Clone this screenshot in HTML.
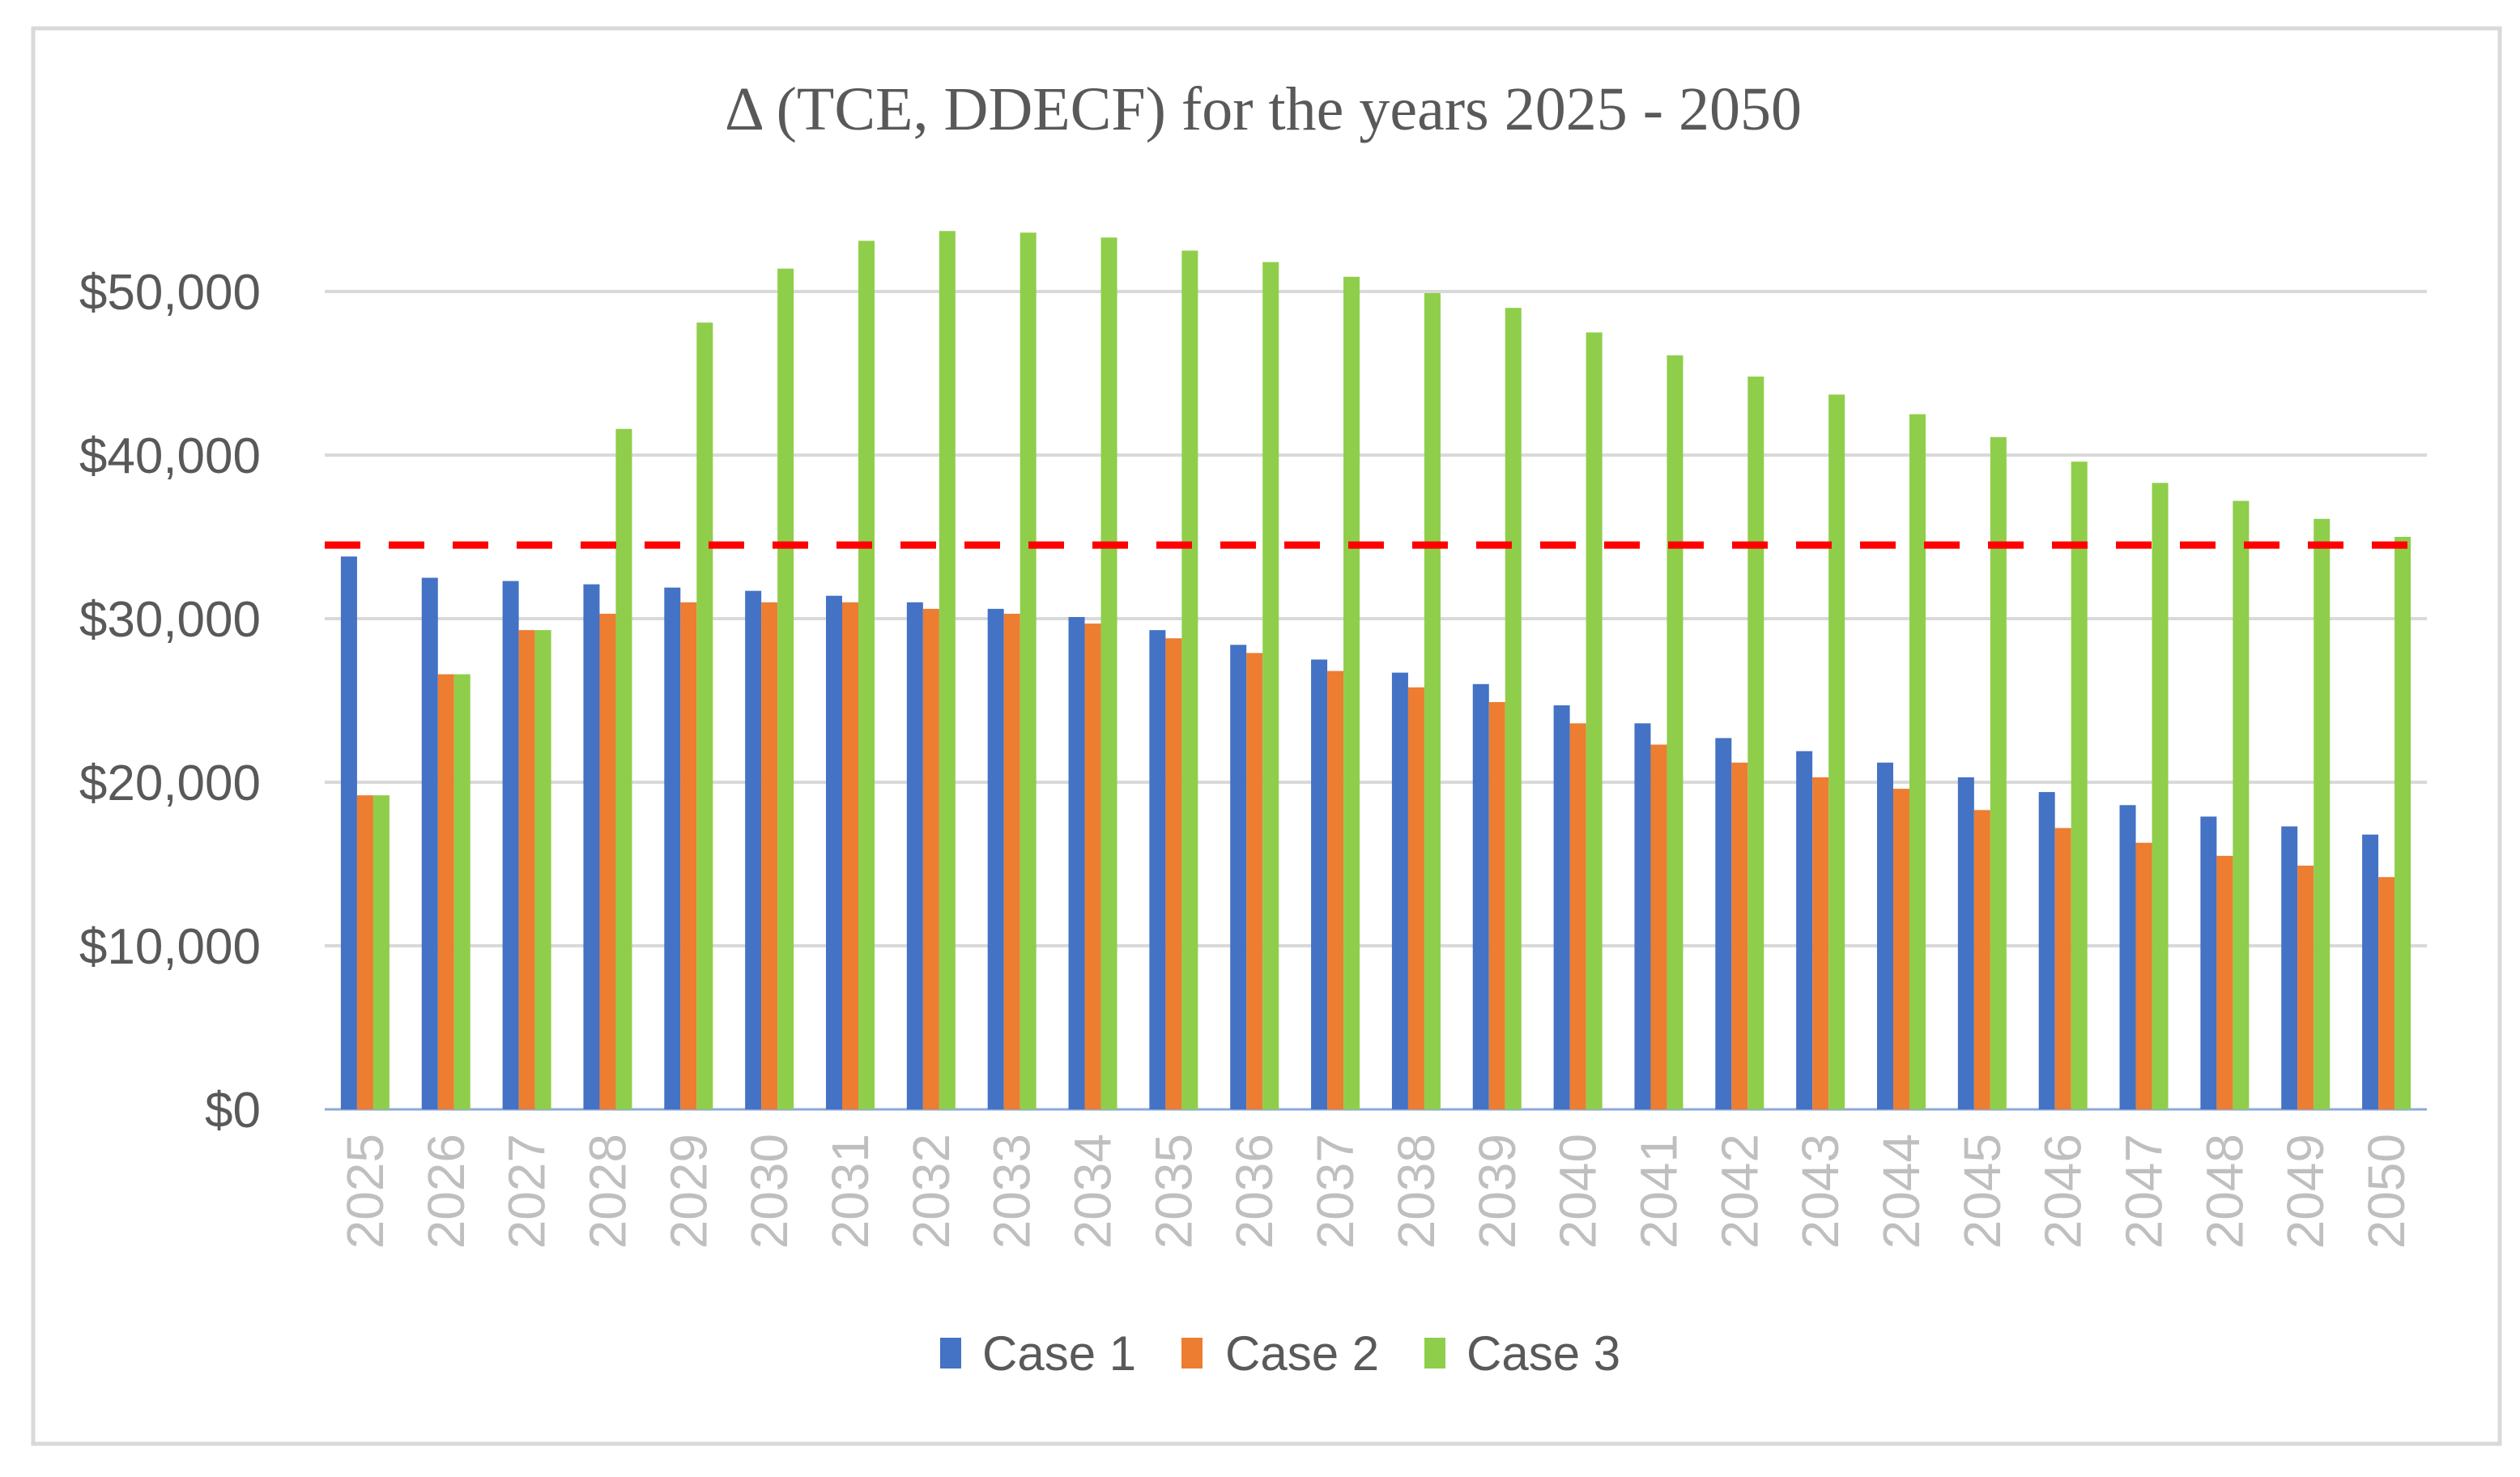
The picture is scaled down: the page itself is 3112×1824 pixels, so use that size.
<!DOCTYPE html>
<html><head><meta charset="utf-8"><style>
html,body{margin:0;padding:0;background:#fff;}
svg{display:block;}
text{font-family:"Liberation Sans",sans-serif;}
</style></head><body>
<svg id="chart" width="3112" height="1824" viewBox="0 0 3112 1824" xmlns="http://www.w3.org/2000/svg">
<rect x="41" y="35" width="3046" height="1748" fill="#fff" stroke="#d9d9d9" stroke-width="5"/>
<text x="1560" y="160" text-anchor="middle" font-size="76" fill="#595959" style="font-family:'Liberation Serif',serif">Δ (TCE, DDECF) for the years 2025 - 2050</text>
<g id="grid"></g><g id="bars"></g><g id="xlabels"></g><g id="ylabels"></g>
<g>
<rect x="1161" y="1652" width="26" height="38" fill="#4472c4"/>
<text x="1213" y="1692" font-size="60" fill="#595959">Case 1</text>
<rect x="1459" y="1652" width="26" height="38" fill="#ed7d31"/>
<text x="1513" y="1692" font-size="60" fill="#595959">Case 2</text>
<rect x="1759" y="1652" width="26" height="38" fill="#8fce4a"/>
<text x="1811" y="1692" font-size="60" fill="#595959">Case 3</text>
</g>
</svg>
<script>
const years=[2025,2026,2027,2028,2029,2030,2031,2032,2033,2034,2035,2036,2037,2038,2039,2040,2041,2042,2043,2044,2045,2046,2047,2048,2049,2050];
const case1=[33800,32500,32300,32100,31900,31700,31400,31000,30600,30100,29300,28400,27500,26700,26000,24700,23600,22700,21900,21200,20300,19400,18600,17900,17300,16800];
const case2=[19200,26600,29300,30300,31000,31000,31000,30600,30300,29700,28800,27900,26800,25800,24900,23600,22300,21200,20300,19600,18300,17200,16300,15500,14900,14200];
const case3=[19200,26600,29300,41600,48100,51400,53100,53700,53600,53300,52500,51800,50900,49900,49000,47500,46100,44800,43700,42500,41100,39600,38300,37200,36100,35000];
const yTicks=[0,10000,20000,30000,40000,50000];
const yTickLabels=["$0","$10,000","$20,000","$30,000","$40,000","$50,000"];
const threshold=34500;
const NS="http://www.w3.org/2000/svg";
const L=401,R=2997,T0=1370,PER=0.0202;
const y=v=>T0-v*PER;
const band=(R-L)/years.length;
const xc=i=>L+band*(i+0.5);
function mk(tag,attrs,parent){const e=document.createElementNS(NS,tag);for(const k in attrs)e.setAttribute(k,attrs[k]);parent.appendChild(e);return e;}
const grid=document.getElementById('grid'),bars=document.getElementById('bars'),xl=document.getElementById('xlabels'),yl=document.getElementById('ylabels');
yTicks.forEach((t,i)=>{
 if(t>0){const g=mk('line',{x1:L,x2:R,y1:y(t),y2:y(t),stroke:'#d9d9d9','stroke-width':4},grid);
 
 }
 const tx=mk('text',{x:322,y:y(t)+22,'text-anchor':'end','font-size':62,fill:'#595959'},yl);
 tx.textContent=yTickLabels[i];
 
 
});
const series=[case1,case2,case3],colors=['#4472c4','#ed7d31','#8fce4a'],bw=20;
years.forEach((yr,i)=>{
 series.forEach((s,j)=>{
  const r=mk('rect',{x:xc(i)-1.5*bw+j*bw,y:y(s[i]),width:bw,height:T0-y(s[i]),fill:colors[j]},bars);
  
  
 });
 const t=mk('text',{transform:`translate(${xc(i)+22},1400) rotate(-90)`,'text-anchor':'end','font-size':64,fill:'#bfbfbf'},xl);
 t.textContent=yr;
 
 
});
const ax=mk('line',{x1:L,x2:R,y1:T0,y2:T0,stroke:'#8eaadb','stroke-width':3},grid);


const th=mk('line',{x1:L,x2:R,y1:y(threshold),y2:y(threshold),stroke:'#ff0000','stroke-width':9,'stroke-dasharray':'44 35'},bars);


</script>
</body></html>
